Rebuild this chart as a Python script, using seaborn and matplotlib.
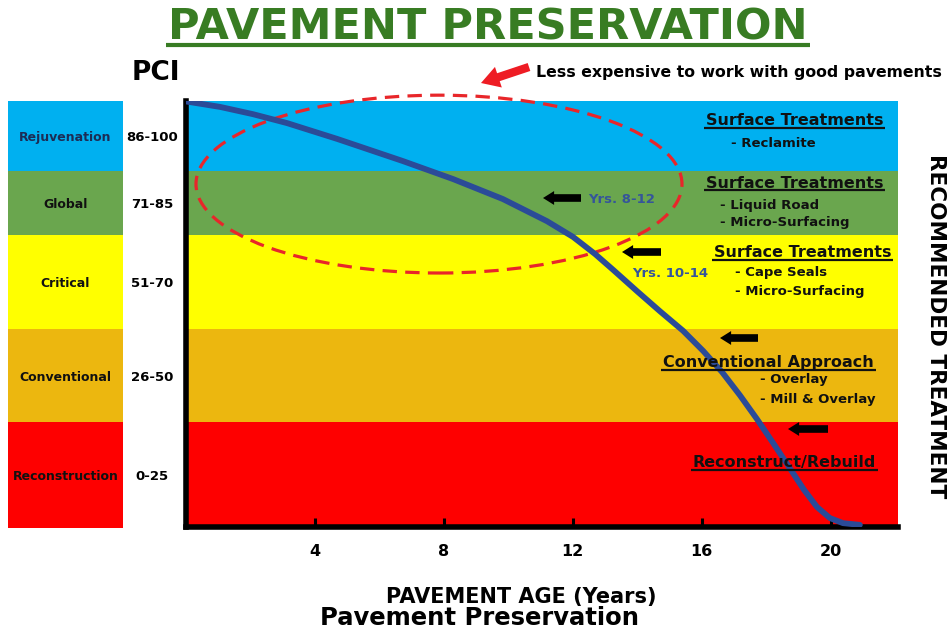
import matplotlib
matplotlib.use("Agg")
import matplotlib.pyplot as plt
from matplotlib.patches import Ellipse, FancyArrowPatch
from matplotlib.lines import Line2D
import seaborn as sns
import pandas as pd

W, H = 948, 633

# PCI condition bands, bottom to top
band_names = ["Reconstruction", "Conventional", "Critical", "Global", "Rejuvenation"]
band_ranges = ["0-25", "26-50", "51-70", "71-85", "86-100"]
band_edges = [0, 24.6, 46.4, 68.5, 83.5, 100]
band_colors = ["#fe0000", "#ecb70f", "#ffff00", "#6aa64e", "#00b0f0"]

# pavement deterioration curve (age in years, condition index)
age_years = [0.0, 1.07, 2.09, 3.15, 4.70, 6.74, 8.29, 9.84, 11.21, 12.02,
             12.70, 13.26, 14.00, 14.71, 15.43, 16.05, 16.64, 17.19, 17.72,
             18.22, 18.71, 19.18, 19.58, 19.98, 20.39, 20.91]
pci_curve = [99.8, 98.5, 96.8, 94.7, 91.0, 85.8, 81.6, 76.9, 71.7, 68.0,
             64.0, 60.3, 55.3, 50.6, 46.0, 41.3, 36.3, 30.9, 25.3,
             19.7, 14.1, 8.7, 4.7, 2.1, 0.9, 0.5]

age_ticks = [4, 8, 12, 16, 20]

BOLD = dict(fontweight="bold", family="DejaVu Sans")


def rect(x0, ytop, x1, ybot):
    return [x0 / W, 1 - ybot / H, (x1 - x0) / W, (ybot - ytop) / H]


def P(x, y):
    return (x / W, 1 - y / H)


sns.set_theme(style="white")
plt.rcParams["font.family"] = ["DejaVu Sans"]

fig = plt.figure(figsize=(W / 100, H / 100), dpi=100)
fig.patch.set_facecolor("white")

# ---- left legend column ----
axl = fig.add_axes(rect(8, 100.5, 123, 527.5))
for lo, hi, c in zip(band_edges[:-1], band_edges[1:], band_colors):
    axl.axhspan(lo, hi, color=c, lw=0)
axl.set_xlim(0, 1)
axl.set_ylim(0, 100)
axl.axis("off")
name_colors = ["#111111", "#111111", "#111111", "#111111", "#1c2c55"]
for lo, hi, name, rng, nc in zip(band_edges[:-1], band_edges[1:], band_names,
                                 band_ranges, name_colors):
    mid = (lo + hi) / 2
    axl.text(0.5, mid, name, ha="center", va="center_baseline", fontsize=9,
             color=nc, transform=axl.get_yaxis_transform(), **BOLD)
    axl.text((152 - 8) / 115, mid, rng, ha="center", va="center_baseline",
             fontsize=9.5, color="black", transform=axl.get_yaxis_transform(),
             **BOLD)

# ---- main chart ----
ax = fig.add_axes(rect(185.5, 100.5, 898, 527))
for lo, hi, c in zip(band_edges[:-1], band_edges[1:], band_colors):
    ax.axhspan(lo, hi, color=c, lw=0, zorder=0)

df = pd.DataFrame({"age": age_years, "pci": pci_curve})
sns.lineplot(data=df, x="age", y="pci", ax=ax, sort=False, color="#2b4b98",
             linewidth=4.2, zorder=4, solid_capstyle="round",
             solid_joinstyle="round")

ax.add_patch(Ellipse((7.86, 80.4), 15.07, 41.7, fill=False, ec="#e8262a",
                     lw=2.3, ls=(0, (4.5, 2.6)), clip_on=False, zorder=3))

ax.set_xlim(0, (898 - 185.5) / 32.25)
ax.set_ylim(0, 100)
ax.set_xticks(age_ticks)
ax.set_xticklabels([str(t) for t in age_ticks])
ax.set_yticks([])
ax.set_xlabel("")
ax.set_ylabel("")
for lab in ax.get_xticklabels():
    lab.set_fontweight("bold")
    lab.set_fontsize(11.5)
    lab.set_color("black")
ax.tick_params(axis="x", direction="in", length=6.5, width=2.2, color="black",
               labelcolor="black", pad=12.5, bottom=True)
for side in ("top", "right"):
    ax.spines[side].set_visible(False)
for side in ("left", "bottom"):
    ax.spines[side].set_visible(True)
    ax.spines[side].set_linewidth(4)
    ax.spines[side].set_color("black")
    ax.spines[side].set_capstyle("projecting")
    ax.spines[side].set_zorder(3.5)

# ---- titles and axis captions ----
title = fig.text(*P(488, 39), "PAVEMENT PRESERVATION", ha="center",
                 va="baseline", fontsize=31, color="#387c23", **BOLD)
fig.text(*P(156, 80), "PCI", ha="center", va="baseline", fontsize=19,
         color="black", **BOLD)
fig.text(*P(536, 77), "Less expensive to work with good pavements", ha="left",
         va="baseline", fontsize=11.3, color="black", **BOLD)
fig.text(*P(521, 603), "PAVEMENT AGE (Years)", ha="center", va="baseline",
         fontsize=15, color="black", **BOLD)
fig.text(*P(479, 625), "Pavement Preservation", ha="center", va="baseline",
         fontsize=17.5, color="black", **BOLD)
fig.text(*P(936.5, 326), "RECOMMENDED TREATMENT", ha="center", va="center",
         rotation=270, fontsize=15.5, color="black", **BOLD)

# ---- recommended treatments ----
underlined = []
treat_head = [
    (706, 125, "Surface Treatments"),
    (706, 188, "Surface Treatments"),
    (714, 257, "Surface Treatments"),
    (663, 367, "Conventional Approach"),
    (693, 467, "Reconstruct/Rebuild"),
]
for x, y, s in treat_head:
    t = fig.text(*P(x, y), s, ha="left", va="baseline", fontsize=11.5,
                 color="#111111", zorder=6, **BOLD)
    underlined.append((t, y + 2.5, 1.6, "#111111"))

treat_items = [
    (731, 147, "- Reclamite"),
    (720, 209, "- Liquid Road"),
    (720, 226, "- Micro-Surfacing"),
    (735, 276, "- Cape Seals"),
    (735, 295, "- Micro-Surfacing"),
    (760, 383, "- Overlay"),
    (760, 403, "- Mill & Overlay"),
]
for x, y, s in treat_items:
    fig.text(*P(x, y), s, ha="left", va="baseline", fontsize=9.5,
             color="#111111", zorder=6, **BOLD)

fig.text(*P(588, 203), "Yrs. 8-12", ha="left", va="baseline", fontsize=9.5,
         color="#35559a", zorder=6, **BOLD)
fig.text(*P(632, 277), "Yrs. 10-14", ha="left", va="baseline", fontsize=9.5,
         color="#35559a", zorder=6, **BOLD)

# black pointer arrows (tip, tail)
pointers = [((543, 198), (581, 198)), ((622, 252), (661, 252)),
            ((720, 338), (758, 338)), ((788, 429), (828, 429))]
for tip, tail in pointers:
    fig.add_artist(FancyArrowPatch(
        P(*tail), P(*tip), transform=fig.transFigure,
        arrowstyle="simple,head_length=0.8,head_width=1.0,tail_width=0.55",
        mutation_scale=10, fc="black", ec="none", shrinkA=0, shrinkB=0,
        zorder=6))

# red arrow toward the good-pavement zone
fig.add_artist(FancyArrowPatch(
    P(529, 67), P(481, 83), transform=fig.transFigure,
    arrowstyle="simple,head_length=1.1,head_width=1.3,tail_width=0.5",
    mutation_scale=12, fc="#ee1c24", ec="none", shrinkA=0, shrinkB=0,
    zorder=6))

# underlines drawn under measured text extents
underlined.append((title, 45, 3.0, "#387c23"))
fig.canvas.draw()
renderer = fig.canvas.get_renderer()
for t, y, lw, c in underlined:
    bb = t.get_window_extent(renderer)
    yy = 1 - y / H
    fig.add_artist(Line2D([bb.x0 / W - 0.002, bb.x1 / W + 0.002], [yy, yy],
                          transform=fig.transFigure, color=c, lw=lw,
                          solid_capstyle="butt", zorder=6))

fig.savefig("out.png", dpi=100, facecolor="white")
